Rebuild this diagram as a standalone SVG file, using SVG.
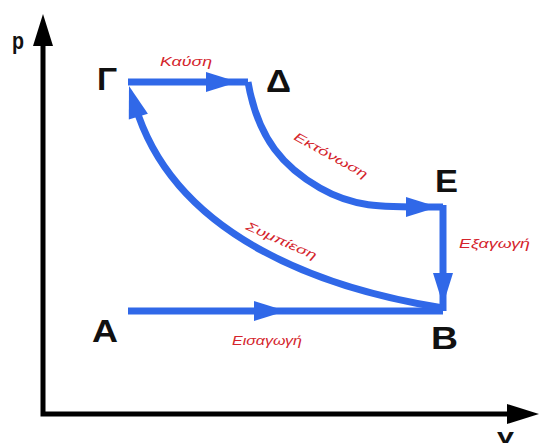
<svg xmlns="http://www.w3.org/2000/svg" width="539" height="448" viewBox="0 0 539 448">
<style>
.axis{fill:none;stroke:#000;stroke-width:5}
.flow{fill:none;stroke:#3068e8;stroke-width:7;stroke-linejoin:round}
.ah{fill:#3068e8}
.pt{font-family:"Liberation Sans",Arial,sans-serif;font-size:31px;font-weight:bold;fill:#111}
.ax{font-family:"Liberation Sans",Arial,sans-serif;font-size:24px;font-weight:bold;fill:#111}
.lb{font-family:"Liberation Sans",Arial,sans-serif;font-size:12px;font-style:italic;fill:#d4242c}
</style>
<defs>
<path id="ah" d="M0,0 L-32,-10 L-32,10 Z"/>
<path id="axh" d="M0,0 L-32,-10 L-32,10 Z"/>
</defs>
<g id="axes">
<path class="axis" d="M43,44 L43,414 L514,414"/>
<use href="#axh" transform="translate(43,14) rotate(-90)"/>
<use href="#axh" transform="translate(539,414)"/>
<text class="ax" x="12" y="49" textLength="12" lengthAdjust="spacingAndGlyphs">p</text>
<text class="ax" x="497" y="443" style="font-size:20px" textLength="17" lengthAdjust="spacingAndGlyphs">v</text>
</g>
<g id="connectors">
<g id="c-gamma-delta">
<path class="flow" d="M128,82 L248,82"/>
<use class="ah" href="#ah" transform="translate(238,82)"/>
<text class="lb" x="160" y="66" textLength="52" lengthAdjust="spacingAndGlyphs">Καύση</text>
</g>
<g id="c-delta-e">
<path class="flow" d="M248,82 C258,140 285,168 320,188 S380,207 443,207"/>
<use class="ah" href="#ah" transform="translate(438,207)"/>
<text class="lb" transform="translate(293,139) rotate(29)" textLength="82" lengthAdjust="spacingAndGlyphs">Εκτόνωση</text>
</g>
<g id="c-e-b">
<path class="flow" d="M443,205 L443,311"/>
<use class="ah" href="#ah" transform="translate(443,305) rotate(90)"/>
<text class="lb" x="459" y="248" textLength="71" lengthAdjust="spacingAndGlyphs">Εξαγωγή</text>
</g>
<g id="c-a-b">
<path class="flow" d="M128,311 L443,311"/>
<use class="ah" href="#ah" transform="translate(286,311)"/>
<text class="lb" x="232" y="345" textLength="70" lengthAdjust="spacingAndGlyphs">Εισαγωγή</text>
</g>
<g id="c-b-gamma">
<path class="flow" d="M443,308 C330,290 175,240 135,105"/>
<use class="ah" href="#ah" transform="translate(129,86) rotate(-107)"/>
<text class="lb" transform="translate(245,229) rotate(24)" textLength="76" lengthAdjust="spacingAndGlyphs">Συμπίεση</text>
</g>
</g>
<g id="node-gamma"><text class="pt" x="97" y="90" textLength="20" lengthAdjust="spacingAndGlyphs">Γ</text></g>
<g id="node-delta"><text class="pt" x="266" y="92" textLength="25" lengthAdjust="spacingAndGlyphs">Δ</text></g>
<g id="node-e"><text class="pt" x="435" y="192" textLength="23" lengthAdjust="spacingAndGlyphs">Ε</text></g>
<g id="node-a"><text class="pt" x="92" y="342" textLength="26" lengthAdjust="spacingAndGlyphs">Α</text></g>
<g id="node-b"><text class="pt" x="431" y="349" textLength="27" lengthAdjust="spacingAndGlyphs">Β</text></g>
</svg>
